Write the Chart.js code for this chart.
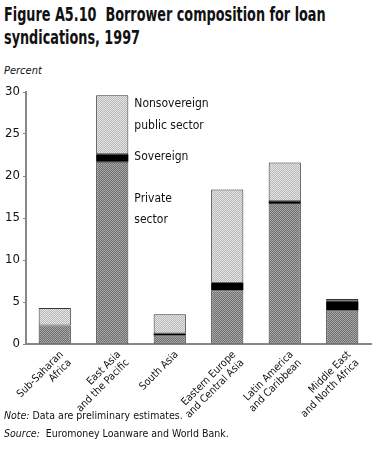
<!DOCTYPE html>
<html lang="en">
<head>
<meta charset="UTF-8">
<title>Figure A5.10</title>
<script src="https://cdn.jsdelivr.net/npm/chart.js"></script>
<style>
  body { margin: 0; width: 373px; height: 467px; background: #fff; font-family: "DejaVu Sans Condensed", "Liberation Sans Narrow", sans-serif; color: #111; position: relative; overflow: hidden; }
  h1 { position: absolute; left: 4px; top: 3px; margin: 0; font-size: 19px; line-height: 23px; font-weight: bold; white-space: nowrap; transform: scaleX(0.75); transform-origin: left top; }
  .unit { position: absolute; left: 4px; top: 64px; font-size: 11px; font-style: italic; }
  .note { position: absolute; left: 4px; font-size: 10.5px; }
  #wrap { position: absolute; left: 0; top: 80px; width: 373px; height: 345px; }
</style>
</head>
<body>
<h1>Figure A5.10&nbsp; Borrower composition for loan<br>syndications, 1997</h1>
<div class="unit">Percent</div>
<div id="wrap"><canvas id="myChart"></canvas></div>
<div class="note" style="top: 409px;"><i>Note:</i> Data are preliminary estimates.</div>
<div class="note" style="top: 427px;"><i>Source:</i>&nbsp; Euromoney Loanware and World Bank.</div>

<script>
    const regions = [
        ['Sub-Saharan', 'Africa'],
        ['East Asia', 'and the Pacific'],
        ['South Asia'],
        ['Eastern Europe', 'and Central Asia'],
        ['Latin America', 'and Caribbean'],
        ['Middle East', 'and North Africa']
    ]
    const privateSector = [2.2, 21.7, 1.0, 6.4, 16.8, 4.0]
    const sovereign = [0, 0.9, 0.25, 0.9, 0.2, 1.1]
    const nonsovereign = [2.1, 7.0, 2.3, 11.1, 4.6, 0.25]
    const yTicks = [0, 5, 10, 15, 20, 25, 30]

    // little stipple patterns like the printed screen tones
    function stipple(a, b) {
        const c = document.createElement('canvas')
        c.width = 2; c.height = 2
        const g = c.getContext('2d')
        g.fillStyle = a; g.fillRect(0, 0, 2, 2)
        g.fillStyle = b; g.fillRect(0, 0, 1, 1); g.fillRect(1, 1, 1, 1)
        return g.createPattern(c, 'repeat')
    }
    const darkTone = stipple('#6e6e6e', '#a8a8a8')
    const lightTone = stipple('#b8b8b8', '#e6e6e6')

    // labels next to the East Asia bar
    const sideLabels = {
        id: 'sideLabels',
        afterDatasetsDraw(chart) {
            const g = chart.ctx
            const y = chart.scales.y
            const bar = chart.getDatasetMeta(0).data[1]
            const x = bar.x + bar.width / 2 + 6
            g.save()
            g.fillStyle = '#111'
            g.font = '12px "DejaVu Sans Condensed", sans-serif'
            g.textBaseline = 'middle'
            g.fillText('Nonsovereign', x, y.getPixelForValue(28.6))
            g.fillText('public sector', x, y.getPixelForValue(26.0))
            g.fillText('Sovereign', x, y.getPixelForValue(22.3))
            g.fillText('Private', x, y.getPixelForValue(17.3))
            g.fillText('sector', x, y.getPixelForValue(14.8))
            g.restore()
        }
    }

    const common = { borderColor: '#333', borderWidth: 1, borderSkipped: false, barPercentage: 0.56, categoryPercentage: 1.0 }

    new Chart(document.getElementById('myChart'), {
        type: 'bar',
        data: {
            labels: regions,
            datasets: [
                { label: 'Private sector', data: privateSector, backgroundColor: darkTone, ...common },
                { label: 'Sovereign', data: sovereign, backgroundColor: '#000', ...common, borderWidth: 0 },
                { label: 'Nonsovereign public sector', data: nonsovereign, backgroundColor: lightTone, ...common }
            ]
        },
        options: {
            responsive: true,
            maintainAspectRatio: false,
            animation: false,
            layout: { padding: { top: 12, right: 2, left: 0, bottom: 0 } },
            plugins: { legend: { display: false }, tooltip: { enabled: false } },
            scales: {
                x: {
                    stacked: true,
                    grid: { display: false },
                    border: { display: true, color: '#888', width: 2 },
                    ticks: {
                        color: '#111',
                        font: { family: '"DejaVu Sans Condensed", sans-serif', size: 10.5, lineHeight: 1.1 },
                        minRotation: 45, maxRotation: 45, autoSkip: false,
                        padding: -3, labelOffset: 7
                    },
                    afterFit: s => { s.height = 81 }
                },
                y: {
                    stacked: true,
                    min: 0, max: 30,
                    afterBuildTicks: s => { s.ticks = yTicks.map(v => ({ value: v })) },
                    grid: { display: true, drawOnChartArea: false, tickLength: 3, color: '#888' },
                    border: { display: true, color: '#888', width: 2 },
                    ticks: {
                        color: '#111',
                        padding: 3,
                        font: { family: '"DejaVu Sans Condensed", sans-serif', size: 13 }
                    },
                    afterFit: s => { s.width = 26 }
                }
            }
        },
        plugins: [sideLabels]
    })
</script>
</body>
</html>
